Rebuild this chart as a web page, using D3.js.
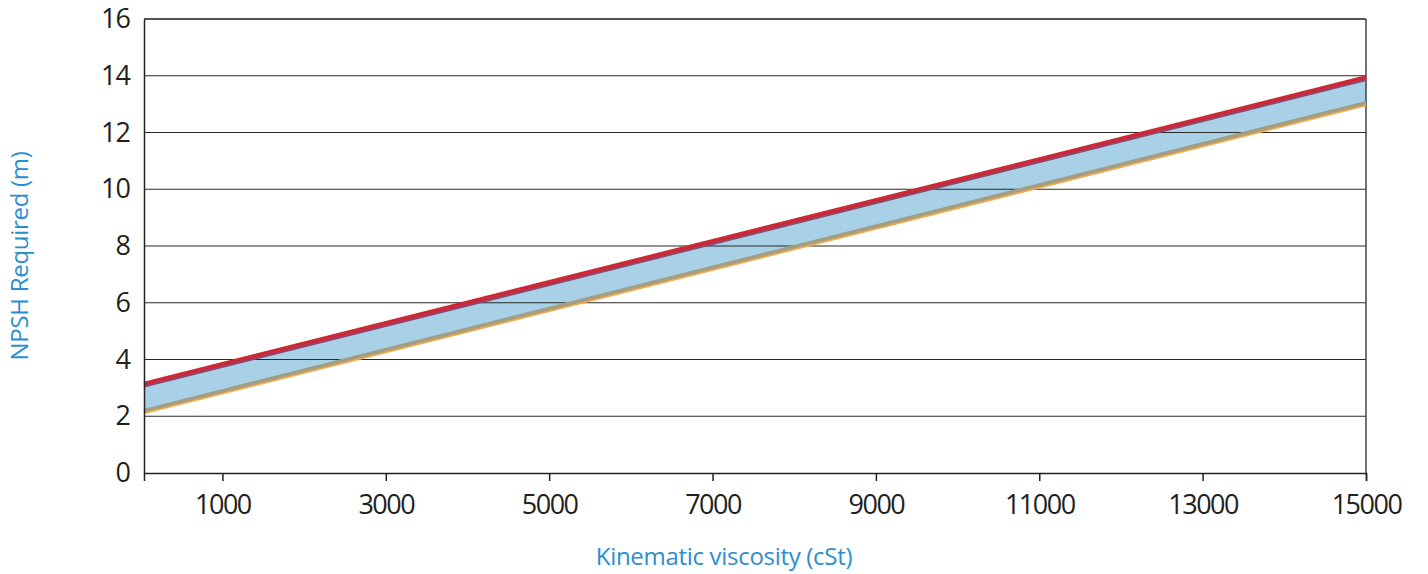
<!DOCTYPE html>
<html>
<head>
<meta charset="utf-8">
<script src="https://cdn.jsdelivr.net/npm/d3@7"></script>
<style>
  body { margin: 0; background: #fff; }
  svg { display: block; font-family: "Open Sans", "Noto Sans", sans-serif; }
</style>
</head>
<body>
<div id="chart"></div>
<script>
// data
const viscosity = [40, 15000];
const upperNpsh = [3.15, 13.95];
const lowerNpsh = [2.2, 13.05];
const xTicks = [1000, 3000, 5000, 7000, 9000, 11000, 13000, 15000];
const yTicks = [0, 2, 4, 6, 8, 10, 12, 14, 16];

function drawChart() {
    const div_id = "#chart";
    const font = "'Open Sans', 'Noto Sans', sans-serif";
    let win_width = 1428;
    let win_height = 574;

    // plot box in page pixels
    let margin = {top: 19, right: 62, bottom: 101, left: 144};
    let width = win_width - margin.left - margin.right;
    let height = win_height - margin.top - margin.bottom;

    let svg = d3.select(div_id)
        .append("svg")
        .attr("width", win_width)
        .attr("height", win_height);

    let g = svg.append("g")
        .attr("transform", "translate(" + margin.left + "," + margin.top + ")");

    let x = d3.scaleLinear().domain([40, 15000]).range([0, width]);
    let y = d3.scaleLinear().domain([0, 16]).range([height, 0]);

    let rows = viscosity.map((v, i) => ({v: v, hi: upperNpsh[i], lo: lowerNpsh[i]}));

    // band between the two curves
    g.append("path")
        .datum(rows)
        .attr("fill", "#a8d1e8")
        .attr("d", d3.area()
            .x(d => x(d.v))
            .y0(d => y(d.lo))
            .y1(d => y(d.hi)));

    // horizontal grid
    g.append("g")
        .selectAll("line")
        .data(yTicks.filter(t => t > 0 && t < 16))
        .enter()
        .append("line")
        .attr("x1", 0)
        .attr("x2", width)
        .attr("y1", d => y(d))
        .attr("y2", d => y(d))
        .attr("stroke", "#2a2a2a")
        .attr("stroke-width", 1.2);

    // top line at 16
    g.append("line")
        .attr("x1", 0).attr("x2", width)
        .attr("y1", y(16)).attr("y2", y(16))
        .attr("stroke", "#555").attr("stroke-width", 2);

    // right border
    g.append("line")
        .attr("x1", width).attr("x2", width)
        .attr("y1", y(16)).attr("y2", height)
        .attr("stroke", "#444").attr("stroke-width", 1.5);

    // lower curve: orange underside, then grey-olive
    let lowLine = d3.line().x(d => x(d.v)).y(d => y(d.lo));
    g.append("path").datum(rows)
        .attr("fill", "none").attr("stroke", "#f4a84a").attr("stroke-width", 3)
        .attr("transform", "translate(0,2)")
        .attr("d", lowLine);
    g.append("path").datum(rows)
        .attr("fill", "none").attr("stroke", "#a39e82").attr("stroke-width", 3.5)
        .attr("d", lowLine);

    // upper curve: purple underside, then red
    let hiLine = d3.line().x(d => x(d.v)).y(d => y(d.hi));
    g.append("path").datum(rows)
        .attr("fill", "none").attr("stroke", "#8c4870").attr("stroke-width", 3)
        .attr("transform", "translate(0,2.5)")
        .attr("d", hiLine);
    g.append("path").datum(rows)
        .attr("fill", "none").attr("stroke", "#cc2936").attr("stroke-width", 4)
        .attr("d", hiLine);

    // X axis
    let xAxis = g.append("g")
        .attr("transform", "translate(0," + height + ")")
        .call(d3.axisBottom(x).tickValues(xTicks).tickSize(8).tickPadding(14).tickFormat(d3.format("d")));
    xAxis.select(".domain").attr("stroke", "#222").attr("stroke-width", 1.5);
    xAxis.selectAll(".tick line").attr("stroke", "#222").attr("stroke-width", 1.5);
    xAxis.selectAll("text")
        .attr("fill", "#231f20")
        .style("font-family", font)
        .style("font-size", "27px")
        .style("letter-spacing", "-1.5px");

    // Y axis
    let yAxis = g.append("g")
        .call(d3.axisLeft(y).tickValues(yTicks).tickSize(0).tickPadding(14));
    yAxis.select(".domain").attr("stroke", "#222").attr("stroke-width", 1.5);
    yAxis.selectAll("text")
        .attr("fill", "#231f20")
        .style("font-family", font)
        .style("font-size", "27px")
        .style("letter-spacing", "-1px");

    // axis titles
    svg.append("text")
        .attr("x", 724)
        .attr("y", 565)
        .attr("text-anchor", "middle")
        .attr("fill", "#2b8ecf")
        .style("font-family", font)
        .style("font-size", "24px")
        .style("letter-spacing", "-0.3px")
        .text("Kinematic viscosity (cSt)");

    svg.append("text")
        .attr("transform", "translate(28,256) rotate(-90)")
        .attr("text-anchor", "middle")
        .attr("fill", "#2b8ecf")
        .style("font-family", font)
        .style("font-size", "24px")
        .style("letter-spacing", "-0.3px")
        .text("NPSH Required (m)");
}
drawChart();
</script>
</body>
</html>
